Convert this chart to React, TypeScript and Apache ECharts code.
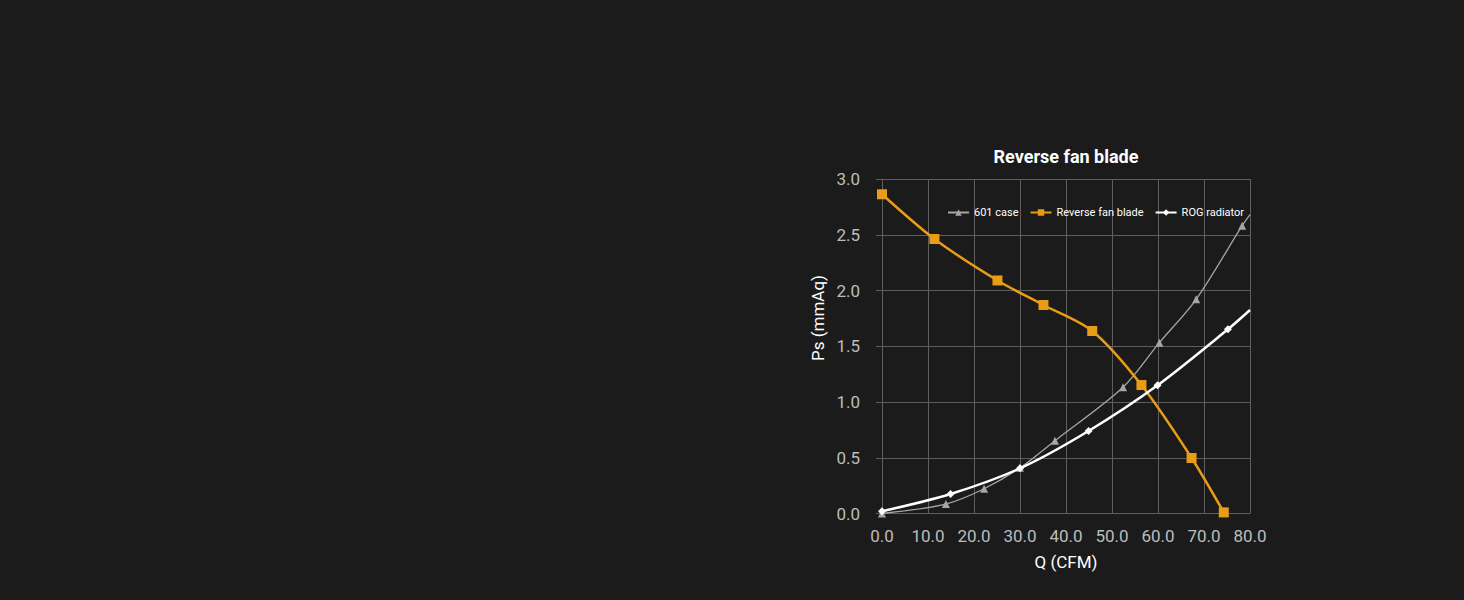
import React, { useEffect, useRef } from "react";
import * as echarts from "echarts";

const chartTitle = "Reverse fan blade";
const xAxisName = "Q (CFM)";
const yAxisName = "Ps (mmAq)";
const seriesNames = ["601 case", "Reverse fan blade", "ROG radiator"];

// [Q (CFM), Ps (mmAq)]
const case601: number[][] = [
  [0, 0], [13.9, 0.085], [22.2, 0.222], [30.0, 0.41], [37.6, 0.653],
  [52.4, 1.132], [60.3, 1.532], [68.3, 1.921], [78.3, 2.581],
];
const case601Tail: number[] = [80, 2.68];

const reverseFanBlade: number[][] = [
  [0, 2.863], [11.4, 2.462], [25.1, 2.09], [35.1, 1.87], [45.7, 1.637],
  [56.4, 1.152], [67.3, 0.498], [74.3, 0.01],
];

const rogRadiator: number[][] = [
  [0, 0.02], [14.9, 0.175], [30.0, 0.405], [44.9, 0.74], [59.9, 1.15], [75.2, 1.652],
];
const rogRadiatorTail: number[] = [80, 1.825];

const xMin = 0, xMax = 80, xStep = 10;
const yMin = 0, yMax = 3, yStep = 0.5;

const FONT = "Roboto, 'Noto Sans', sans-serif";
const GRID = "#5e5e5e";

export default function App() {
  const ref = useRef<HTMLDivElement>(null);
  useEffect(() => {
    if (!ref.current) return;
    const chart = echarts.init(ref.current, undefined, { renderer: "svg" });
    chart.setOption({
      animation: false,
      backgroundColor: "#1b1b1b",
      textStyle: { fontFamily: FONT },
      title: {
        text: chartTitle,
        left: 1061,
        top: 142,
        textAlign: "center",
        textStyle: { color: "#ffffff", fontSize: 18, fontWeight: "bold", fontFamily: FONT },
      },
      legend: {
        data: seriesNames,
        left: 942,
        top: 202,
        itemWidth: 21,
        itemHeight: 8,
        itemGap: 11,
        textStyle: { color: "#ffffff", fontSize: 11, fontFamily: FONT },
      },
      grid: { left: 882, right: 214, top: 179, bottom: 86.5, containLabel: false },
      xAxis: {
        type: "value",
        min: xMin,
        max: xMax,
        interval: xStep,
        name: xAxisName,
        nameLocation: "middle",
        nameGap: 40,
        nameTextStyle: { color: "#ffffff", fontSize: 17, fontFamily: FONT },
        axisLine: { show: true, lineStyle: { color: GRID, width: 1 } },
        axisTick: { show: false },
        axisLabel: {
          color: "#bdbdbd",
          fontSize: 17,
          margin: 14,
          fontFamily: FONT,
          formatter: (v: number) => v.toFixed(1),
        },
        splitLine: { show: true, lineStyle: { color: GRID, width: 1 } },
      },
      yAxis: {
        type: "value",
        min: yMin,
        max: yMax,
        interval: yStep,
        axisLine: { show: true, lineStyle: { color: GRID, width: 1 } },
        axisTick: { show: true, length: 6, lineStyle: { color: GRID, width: 1 } },
        axisLabel: {
          color: "#bdbdbd",
          fontSize: 17,
          margin: 22,
          fontFamily: FONT,
          formatter: (v: number) => v.toFixed(1),
        },
        splitLine: { show: true, lineStyle: { color: GRID, width: 1 } },
      },
      graphic: [
        {
          type: "text",
          x: 818,
          y: 318,
          rotation: Math.PI / 2,
          style: {
            text: yAxisName,
            fill: "#ffffff",
            fontSize: 17,
            fontFamily: FONT,
            align: "center",
            verticalAlign: "middle",
          },
        },
      ],
      series: [
        {
          name: seriesNames[0],
          type: "line",
          smooth: 0.3,
          data: [...case601, { value: case601Tail, symbol: "none" }],
          symbol: "triangle",
          symbolSize: 8,
          showAllSymbol: true,
          itemStyle: { color: "#a6a6a6" },
          lineStyle: { color: "#a6a6a6", width: 1.3 },
          z: 2,
        },
        {
          name: seriesNames[1],
          type: "line",
          smooth: 0.3,
          data: reverseFanBlade,
          symbol: "rect",
          symbolSize: 10,
          showAllSymbol: true,
          itemStyle: { color: "#e99c15" },
          lineStyle: { color: "#e99c15", width: 2.5 },
          z: 3,
        },
        {
          name: seriesNames[2],
          type: "line",
          smooth: 0.3,
          data: [...rogRadiator, { value: rogRadiatorTail, symbol: "none" }],
          symbol: "diamond",
          symbolSize: 8,
          showAllSymbol: true,
          itemStyle: { color: "#ffffff" },
          lineStyle: { color: "#ffffff", width: 2.5 },
          z: 4,
        },
      ],
    });
    return () => chart.dispose();
  }, []);
  return (
    <div
      ref={ref}
      style={{ position: "fixed", left: 0, top: 0, width: 1464, height: 600, background: "#1b1b1b" }}
    />
  );
}
